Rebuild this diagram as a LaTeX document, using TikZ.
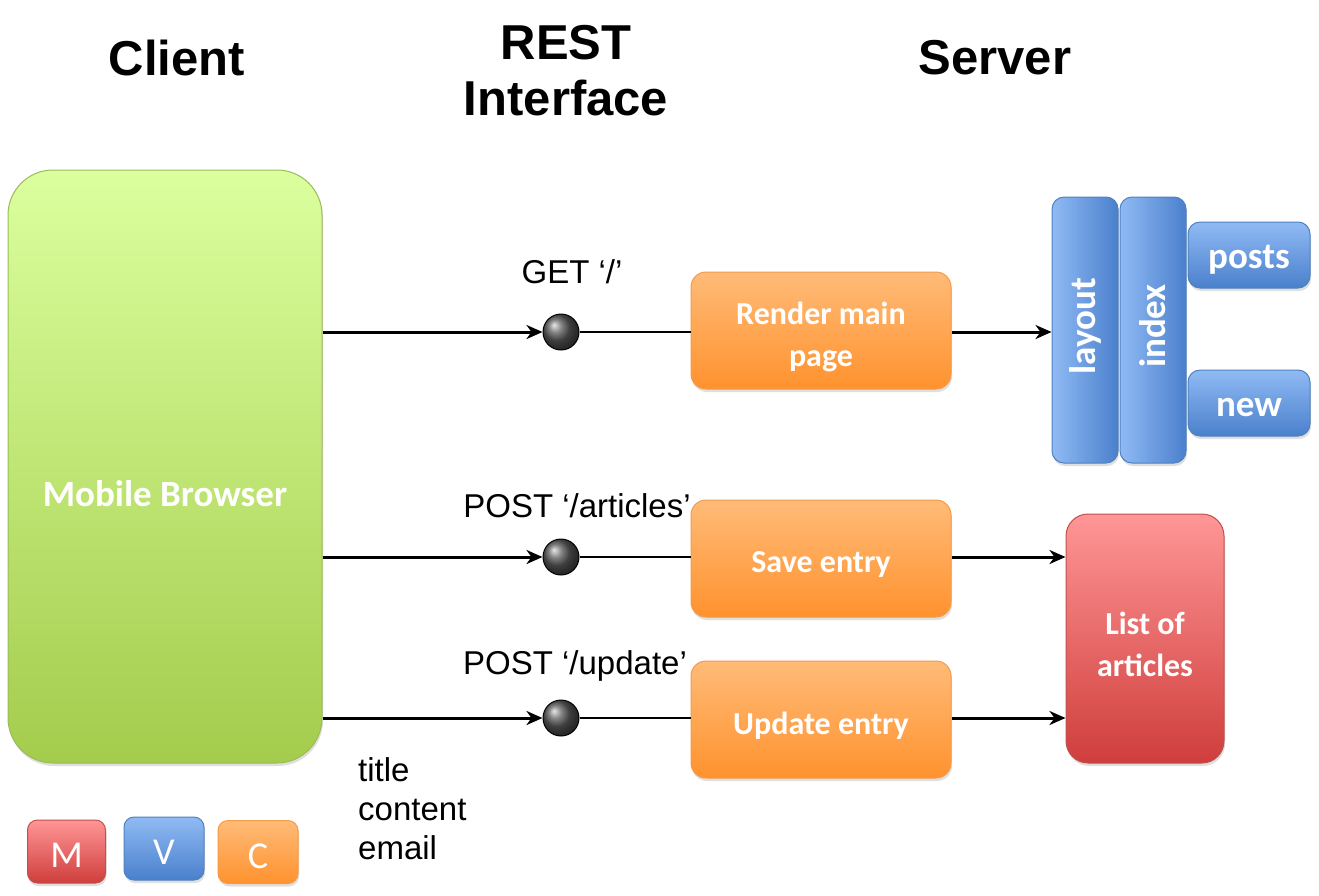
\documentclass[tikz,border=0pt]{standalone}
\usepackage{fontspec}
\setmainfont{Liberation Sans}
\newfontfamily\calfont{Carlito}
\usetikzlibrary{arrows.meta,shadows}
\definecolor{grnT}{HTML}{DBFF9E}
\definecolor{grnB}{HTML}{A4CC4C}
\definecolor{grnD}{HTML}{9BBB59}
\definecolor{orT}{HTML}{FFBB78}
\definecolor{orB}{HTML}{FF922E}
\definecolor{orD}{HTML}{F59A48}
\definecolor{blL}{HTML}{90BAF4}
\definecolor{blR}{HTML}{4A80CC}
\definecolor{blD}{HTML}{4F81BD}
\definecolor{rdT}{HTML}{FF9696}
\definecolor{rdB}{HTML}{CF3E3C}
\definecolor{rdD}{HTML}{C0504D}
\begin{document}
\begin{tikzpicture}[x=1pt,y=-1pt,
  shad/.style={drop shadow={opacity=0.25,shadow xshift=1pt,shadow yshift=-3pt}},
  head/.style={font=\fontsize{49}{56}\selectfont\bfseries, align=center},
  lbl/.style={font=\fontsize{33}{39}\selectfont},
  boxtxt/.style={text=white, font=\calfont\fontsize{32}{42}\selectfont\bfseries, align=center},
  bigtxt/.style={text=white, font=\calfont\fontsize{37}{42}\selectfont\bfseries, align=center},
  txt/.style={label={[boxtxt,yshift=-6pt]center:#1}},
  btxt/.style={label={[bigtxt,yshift=-5pt]center:#1}},
  vtxt/.style={label={[bigtxt,rotate=90,xshift=4pt]center:#1}},
  grnbox/.style={shad, draw=grnD, line width=1pt, rounded corners=45pt, top color=grnT, bottom color=grnB},
  orbox/.style={shad, draw=orD, line width=1pt, rounded corners=15pt, top color=orT, bottom color=orB, minimum width=260pt, minimum height=117pt},
  blvbox/.style={shad, draw=blD, line width=1pt, rounded corners=12pt, left color=blL, right color=blR, minimum width=66pt, minimum height=266pt},
  blhbox/.style={shad, draw=blD, line width=1pt, rounded corners=12pt, top color=blL, bottom color=blR, minimum width=122pt, minimum height=66pt},
  rdbox/.style={shad, draw=rdD, line width=1pt, rounded corners=22pt, top color=rdT, bottom color=rdB},
  legbox/.style={shad, line width=1pt, rounded corners=10pt, minimum width=78pt, minimum height=63pt},
  legtxt/.style={label={[text=white, font=\calfont\fontsize{38}{44}\selectfont, yshift=-4pt]center:#1}},
  ball/.style={circle, draw=black, line width=1pt, ball color=gray!70!black, minimum size=36pt, inner sep=0pt},
  thk/.style={line width=3pt, -{Stealth[length=16pt,width=14pt,inset=5pt]}},
  thn/.style={line width=1.2pt},
]
\useasboundingbox (0,0) rectangle (1319,895);
% headers
\node[head] (hclient) at (177,58) {Client};
\node[head] (hrest) at (566,71) {REST\\Interface};
\node[head] (hserver) at (995,58) {Server};
% client
\node[grnbox, minimum width=314pt, minimum height=593pt, label={[bigtxt,yshift=-27pt]center:Mobile Browser}] (browser) at (165,466.5) {};
% balls
\node[ball] (c1) at (561,332) {};
\node[ball] (c2) at (561,557) {};
\node[ball] (c3) at (561,718) {};
\node[lbl] (l1) at (572,272) {GET ‘/’};
\node[lbl] (l2) at (577,506) {POST ‘/articles’};
\node[lbl] (l3) at (575,666) {POST ‘/update’};
% controllers
\node[orbox, txt={Render main\\page}] (render) at (821,330.5) {};
\node[orbox, txt={Save entry}] (save) at (821,558.5) {};
\node[orbox, txt={Update entry}] (update) at (821,719.5) {};
% views
\node[blvbox, vtxt={layout}] (layout) at (1085,330) {};
\node[blvbox, vtxt={index}] (index) at (1153,330) {};
\node[blhbox, btxt={posts}] (posts) at (1249,255) {};
\node[blhbox, btxt={new}] (new) at (1249,403) {};
% model
\node[rdbox, minimum width=158pt, minimum height=249pt, txt={List of\\articles}] (list) at (1145,638.5) {};
% connectors
\draw[thk] (browser.east |- c1) -- (c1);
\draw[thk] (browser.east |- c2) -- (c2);
\draw[thk] (browser.east |- c3) -- (c3);
\draw[thn] (c1) -- (render.west |- c1);
\draw[thn] (c2) -- (save.west |- c2);
\draw[thn] (c3) -- (update.west |- c3);
\draw[thk] (render.east |- c1) -- (layout.west |- c1);
\draw[thk] (save.east |- c2) -- (list.west |- c2);
\draw[thk] (update.east |- c3) -- (list.west |- c3);
% params
\node[lbl, anchor=north west, align=left, inner sep=0pt] (params) at (358,757) {title\\content\\email};
% legend
\node[legbox, draw=rdD, top color=rdT, bottom color=rdB, legtxt={M}] (lm) at (66.5,851.5) {};
\node[legbox, draw=blD, top color=blL, bottom color=blR, minimum width=80pt, legtxt={V}] (lv) at (164,848.5) {};
\node[legbox, draw=orD, top color=orT, bottom color=orB, minimum width=80pt, legtxt={C}] (lc) at (258,852) {};
\end{tikzpicture}
\end{document}
